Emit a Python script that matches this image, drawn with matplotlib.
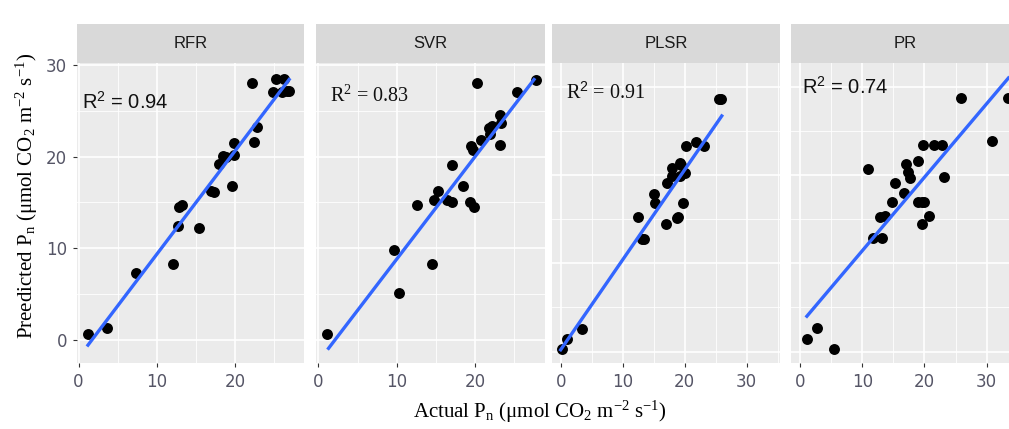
import matplotlib
matplotlib.use("Agg")
import matplotlib.pyplot as plt

# ==================== Data ====================
models = ["RFR", "SVR", "PLSR", "PR"]
r2_values = [0.94, 0.83, 0.91, 0.74]

rfr_actual = [1.2, 3.6, 7.3, 12.1, 12.7, 12.8, 13.2, 15.4, 16.9, 17.3, 18.0, 18.5, 18.8,
              19.6, 19.8, 19.9, 22.2, 22.4, 22.8, 24.9, 25.2, 26.2, 26.0, 26.9, 26.6]
rfr_predicted = [0.65, 1.3, 7.3, 8.3, 12.4, 14.5, 14.7, 12.2, 16.2, 16.1, 19.2, 20.1, 19.9,
                 16.8, 20.2, 21.5, 28.0, 21.6, 23.2, 27.0, 28.5, 28.5, 27.0, 27.2, 27.1]

svr_actual = [1.15, 9.7, 10.3, 14.5, 12.6, 14.7, 15.3, 16.4, 17.0, 17.1, 18.5, 19.4, 19.9,
              19.5, 19.7, 20.2, 20.7, 21.7, 22.1, 21.9, 23.2, 23.3, 23.1, 25.3, 27.7]
svr_predicted = [0.65, 9.8, 5.1, 8.3, 14.7, 15.3, 16.2, 15.3, 15.1, 19.1, 16.8, 15.0, 14.5,
                 21.2, 20.7, 28.0, 21.8, 23.1, 23.3, 22.5, 24.5, 23.7, 21.3, 27.0, 28.4]

plsr_actual = [0.16, 1.0, 3.4, 12.4, 13.1, 13.4, 15.0, 15.2, 17.0, 17.2, 17.9, 18.0, 18.8,
               19.0, 19.2, 19.4, 19.2, 19.7, 20.1, 20.2, 21.9, 23.1, 25.5, 25.8]
plsr_predicted = [0.3, 1.4, 2.6, 15.3, 12.8, 12.8, 17.9, 16.8, 14.5, 19.1, 20.8, 19.9, 15.1,
                  15.3, 21.4, 21.1, 19.9, 16.8, 20.2, 23.3, 23.8, 23.3, 28.6, 28.6]

pr_actual = [1.1, 2.8, 5.5, 11.0, 11.7, 13.2, 12.9, 13.7, 14.8, 15.2, 16.7, 17.0, 17.3, 17.7,
             18.9, 19.0, 19.6, 19.9, 19.6, 19.7, 20.8, 21.5, 22.9, 23.1, 25.8, 30.9, 33.5]
pr_predicted = [1.4, 2.7, 0.26, 20.7, 12.9, 12.9, 15.2, 15.4, 16.9, 19.1, 18.0, 21.3, 20.3, 19.7,
                21.6, 16.9, 16.9, 16.9, 14.5, 23.4, 15.4, 23.4, 23.4, 19.8, 28.7, 23.9, 28.7]

# fitted lines (start / end of the smooth as drawn in each panel)
fit_x = [[1.2, 26.9], [1.3, 27.5], [0.0, 26.0], [1.1, 33.5]]
fit_y = [[-0.55, 28.4], [-0.9, 28.4], [0.2, 26.7], [4.0, 31.0]]

actual = [rfr_actual, svr_actual, plsr_actual, pr_actual]
predicted = [rfr_predicted, svr_predicted, plsr_predicted, pr_predicted]

x_limits = [(-0.2, 28.8), (-0.3, 28.9), (-1.4, 35.4), (-1.45, 35.2)]
y_limits = [(-2.5, 30.2), (-2.5, 30.2), (-1.3, 32.7), (-1.3, 32.7)]
x_ticks = [[0, 10, 20], [0, 10, 20], [0, 10, 20, 30], [0, 10, 20, 30]]
y_ticks = [0, 10, 20, 30]
label_pos = [(0.02, 0.87), (0.06, 0.89), (0.06, 0.90), (0.05, 0.92)]
label_fonts = ["Liberation Sans", "Liberation Serif", "Liberation Serif", "Liberation Sans"]
label_texts = ["R$^\\mathsf{2}$ = {0}", "R$^2$ = {0}", "R$^\\mathsf{2}$ = {0}", "R$^\\mathsf{2}$ = {0}"]

# ==================== Layout ====================
W, H = 1009, 429
panel_left = [77, 316, 552, 791]
panel_width = [227, 229, 228, 228]
panel_top, panel_bottom = 63, 363
strip_top = 24

plt.rcParams["mathtext.fontset"] = "custom"
plt.rcParams["mathtext.rm"] = "Liberation Serif"
plt.rcParams["mathtext.it"] = "Liberation Serif:italic"
plt.rcParams["mathtext.sf"] = "Liberation Sans"

fig = plt.figure(figsize=(W / 100, H / 100), dpi=100)


def minor_between(lo, hi):
    vals = []
    v = -5
    while v <= hi:
        if v >= lo:
            vals.append(v)
        v += 10
    return vals


for i, model in enumerate(models):
    left = panel_left[i] / W
    width = panel_width[i] / W
    bottom = (H - panel_bottom) / H
    height = (panel_bottom - panel_top) / H
    ax = fig.add_axes([left, bottom, width, height])
    ax.set_facecolor("#EBEBEB")
    ax.set_xlim(*x_limits[i])
    ax.set_ylim(*y_limits[i])

    # grid lines, ggplot style
    for v in minor_between(*x_limits[i]):
        ax.axvline(v, color="white", lw=0.6, zorder=0)
    for v in minor_between(*y_limits[i]):
        ax.axhline(v, color="white", lw=0.6, zorder=0)
    for v in x_ticks[i]:
        ax.axvline(v, color="white", lw=1.2, zorder=0)
    for v in y_ticks:
        ax.axhline(v, color="white", lw=1.2, zorder=0)

    ax.scatter(actual[i], predicted[i], s=62, color="black", zorder=3, linewidths=0)
    ax.plot(fit_x[i], fit_y[i], color="#3366FF", lw=2.4, zorder=4)

    ax.text(label_pos[i][0], label_pos[i][1], label_texts[i].replace("{0}", str(r2_values[i])),
            transform=ax.transAxes, fontsize=14.5, family=label_fonts[i],
            color="#111111", va="center", ha="left", zorder=5)

    for side in ax.spines.values():
        side.set_visible(False)
    ax.set_xticks(x_ticks[i])
    ax.tick_params(axis="x", length=3, color="#333333", labelcolor="#555566",
                   labelsize=12, pad=4)
    if i == 0:
        ax.set_yticks(y_ticks)
        ax.tick_params(axis="y", length=3, color="#333333", labelcolor="#555566",
                       labelsize=12, pad=4)
    else:
        ax.set_yticks([])

    # facet strip
    strip = fig.add_axes([left, (H - panel_top) / H, width, (panel_top - strip_top) / H])
    strip.set_facecolor("#D9D9D9")
    strip.set_xticks([])
    strip.set_yticks([])
    for side in strip.spines.values():
        side.set_visible(False)
    strip.text(0.5, 0.5, model, ha="center", va="center", fontsize=12,
               family="Liberation Sans", color="#1A1A1A", transform=strip.transAxes)

fig.text(540 / W, 1 - 412 / H,
         "Actual P$_\\mathrm{n}$ (\u03bcmol CO$_2$ m$^{\u22122}$ s$^{\u22121}$)",
         ha="center", va="center", fontsize=15, family="Liberation Serif")
fig.text(27 / W, 1 - 196 / H,
         "Preedicted P$_\\mathrm{n}$ (\u03bcmol CO$_2$ m$^{\u22122}$ s$^{\u22121}$)",
         ha="center", va="center", fontsize=15, family="Liberation Serif", rotation=90)

fig.savefig("out.png", dpi=100)
